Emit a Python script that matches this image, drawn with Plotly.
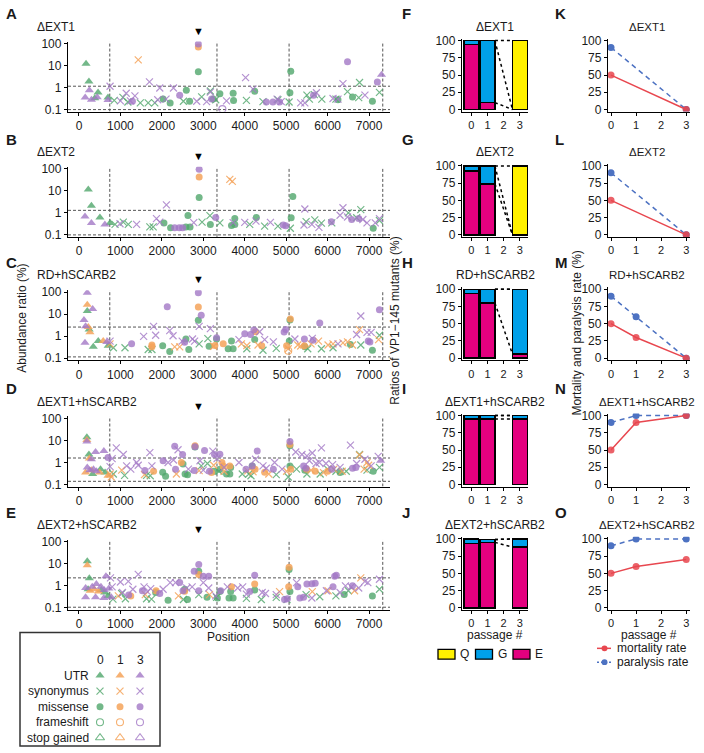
import plotly.graph_objects as go

FONT = "Liberation Sans, Arial, Helvetica, sans-serif"
W, H = 704, 753

# ---------------------------------------------------------------- data
passages = [0, 1, 3]
type_codes = ["U", "S", "M", "F", "X"]
type_names = ["UTR", "synonymus", "missense", "frameshift", "stop gained"]
panel_titles = ["ΔEXT1", "ΔEXT2", "RD+hSCARB2", "ΔEXT1+hSCARB2", "ΔEXT2+hSCARB2"]
scatter_letters = ["A", "B", "C", "D", "E"]
bar_letters = ["F", "G", "H", "I", "J"]
line_letters = ["K", "L", "M", "N", "O"]

region_bounds = [743, 3330, 5070, 7330]
vp1_145_position = 2880
upper_cut = [1.15, 1.3, 2.6, 1.6, 2.3]
lower_cut = [0.1, 0.1, 0.115, 0.14, 0.107]
pos_ticks = [0, 1000, 2000, 3000, 4000, 5000, 6000, 7000]
abund_ticks = [0.1, 1, 10, 100]
abund_labels = ["0.1", "1", "10", "100"]

# (genome position, abundance ratio %, passage, mutation type)
A_pts = [
    (170, 12, 0, "U"), (240, 1.9, 0, "U"), (460, 0.6, 0, "U"), (380, 0.33, 0, "U"), (700, 0.35, 0, "U"),
    (850, 0.26, 0, "S"), (1060, 0.36, 0, "S"), (1180, 0.22, 0, "S"), (1480, 0.2, 0, "S"), (1670, 0.2, 0, "S"),
    (1830, 0.2, 0, "S"), (2520, 0.24, 0, "S"), (2960, 0.38, 0, "S"), (3170, 0.7, 0, "S"), (4040, 0.26, 0, "S"),
    (4440, 0.23, 0, "S"), (4800, 0.28, 0, "S"), (5070, 0.22, 0, "S"), (5500, 0.45, 0, "S"), (5560, 0.3, 0, "S"),
    (5680, 0.48, 0, "S"), (5860, 0.3, 0, "S"), (6200, 0.3, 0, "S"), (6480, 0.65, 0, "S"), (6770, 1.7, 0, "S"),
    (6750, 0.35, 0, "S"), (7250, 0.6, 0, "S"), (3300, 0.28, 0, "S"),
    (2030, 0.3, 0, "M"), (2200, 0.2, 0, "M"), (2590, 0.75, 0, "M"), (2670, 0.24, 0, "M"), (2880, 5.2, 0, "M"),
    (3240, 0.3, 0, "M"), (3400, 0.53, 0, "M"), (3720, 0.55, 0, "M"), (3730, 0.26, 0, "M"), (4240, 0.68, 0, "M"),
    (5090, 0.58, 0, "M"), (5110, 5.5, 0, "M"), (6600, 0.37, 0, "M"), (7080, 0.24, 0, "M"), (6250, 0.28, 0, "M"),
    (1430, 18, 1, "S"), (2880, 70, 1, "M"),
    (150, 0.35, 3, "U"), (250, 0.75, 3, "U"), (300, 0.28, 3, "U"), (440, 0.36, 3, "U"), (700, 0.27, 3, "U"),
    (7300, 3.8, 3, "U"),
    (750, 1.15, 3, "S"), (1000, 0.25, 3, "S"), (1140, 0.55, 3, "S"), (1240, 0.25, 3, "S"), (1350, 0.42, 3, "S"),
    (1700, 1.8, 3, "S"), (1950, 0.95, 3, "S"), (1900, 0.28, 3, "S"), (2280, 0.95, 3, "S"), (2840, 0.24, 3, "S"),
    (3080, 0.23, 3, "S"), (3170, 0.62, 3, "S"), (3560, 0.25, 3, "S"), (4020, 2.8, 3, "S"), (4200, 0.85, 3, "S"),
    (4780, 0.3, 3, "S"), (4880, 0.23, 3, "S"), (5350, 0.2, 3, "S"), (5450, 0.2, 3, "S"), (5730, 0.58, 3, "S"),
    (6130, 0.32, 3, "S"), (6370, 1.5, 3, "S"), (6250, 0.3, 3, "S"), (6900, 0.45, 3, "S"), (2100, 0.3, 3, "S"),
    (2430, 0.45, 3, "M"), (2880, 95, 3, "M"), (3200, 0.3, 3, "M"), (4520, 0.22, 3, "M"), (4680, 0.22, 3, "M"),
    (4840, 0.22, 3, "M"), (6480, 15, 3, "M"), (7200, 1.8, 3, "M"), (1290, 0.24, 3, "M"), (5660, 0.45, 3, "M"),
    (3460, 0.105, 3, "F"),
]

B_pts = [
    (225, 11.5, 0, "U"), (300, 2.1, 0, "U"), (505, 0.62, 0, "U"), (750, 0.35, 0, "U"),
    (870, 0.3, 0, "S"), (1070, 0.38, 0, "S"), (1190, 0.3, 0, "S"), (1710, 0.23, 0, "S"), (1790, 0.23, 0, "S"),
    (2970, 0.38, 0, "S"), (3160, 0.75, 0, "S"), (3400, 0.35, 0, "S"), (4120, 0.3, 0, "S"), (4480, 0.25, 0, "S"),
    (4800, 0.25, 0, "S"), (5100, 0.2, 0, "S"), (5480, 0.4, 0, "S"), (5690, 0.48, 0, "S"), (5850, 0.34, 0, "S"),
    (6500, 1.0, 0, "S"), (6800, 1.4, 0, "S"), (6700, 0.6, 0, "S"), (7250, 0.45, 0, "S"), (6100, 0.35, 0, "S"),
    (2050, 0.35, 0, "M"), (2210, 0.21, 0, "M"), (2580, 0.23, 0, "M"), (2630, 0.75, 0, "M"), (2680, 0.23, 0, "M"),
    (2900, 5.0, 0, "M"), (3170, 0.3, 0, "M"), (3680, 0.27, 0, "M"), (3760, 0.3, 0, "M"), (3760, 0.55, 0, "M"),
    (4280, 0.62, 0, "M"), (5120, 0.6, 0, "M"), (5160, 5.5, 0, "M"), (7100, 0.2, 0, "M"),
    (3640, 33, 1, "S"), (3700, 27, 1, "S"), (2900, 42, 1, "M"),
    (145, 0.68, 3, "U"), (300, 0.35, 3, "U"), (625, 0.3, 3, "U"),
    (990, 0.32, 3, "S"), (1390, 0.3, 3, "S"), (1870, 0.55, 3, "S"), (1950, 0.38, 3, "S"), (2110, 2.3, 3, "S"),
    (2770, 0.36, 3, "S"), (3720, 0.36, 3, "S"), (4000, 0.37, 3, "S"), (4270, 0.42, 3, "S"), (4620, 0.37, 3, "S"),
    (5450, 1.5, 3, "S"), (5430, 0.28, 3, "S"), (5620, 0.3, 3, "S"), (5790, 0.22, 3, "S"), (6300, 0.78, 3, "S"),
    (6370, 1.7, 3, "S"), (6480, 0.65, 3, "S"), (6950, 0.35, 3, "S"), (7150, 0.35, 3, "S"), (7250, 0.55, 3, "S"),
    (6850, 0.5, 3, "S"),
    (2310, 0.21, 3, "M"), (2420, 0.21, 3, "M"), (2500, 0.21, 3, "M"), (2900, 95, 3, "M"), (3300, 0.62, 3, "M"),
    (4930, 0.28, 3, "M"), (4990, 0.26, 3, "M"), (6090, 0.4, 3, "M"), (6750, 0.55, 3, "M"), (6580, 0.5, 3, "M"),
]

C_pts = [
    (200, 14, 0, "U"), (245, 2.0, 0, "U"), (345, 0.33, 0, "U"), (465, 0.6, 0, "U"), (705, 0.37, 0, "U"),
    (200, 27, 1, "U"), (225, 2.6, 1, "U"), (265, 1.5, 1, "U"), (585, 0.6, 1, "U"),
    (200, 95, 3, "U"), (120, 5.4, 3, "U"), (160, 2.8, 3, "U"), (330, 17, 3, "U"), (145, 0.5, 3, "U"),
    (670, 0.55, 3, "U"),
    (830, 0.3, 0, "S"), (1110, 0.3, 0, "S"), (1670, 0.25, 0, "S"), (1760, 0.25, 0, "S"), (2900, 0.45, 0, "S"),
    (3110, 0.78, 0, "S"), (4050, 0.27, 0, "S"), (4440, 0.23, 0, "S"), (4760, 0.28, 0, "S"), (5520, 0.27, 0, "S"),
    (5850, 0.27, 0, "S"), (6130, 0.3, 0, "S"), (7250, 1.1, 0, "S"), (6800, 0.4, 0, "S"),
    (2020, 0.37, 0, "M"), (2190, 0.2, 0, "M"), (2580, 0.75, 0, "M"), (2650, 0.25, 0, "M"), (2880, 5.3, 0, "M"),
    (3140, 0.35, 0, "M"), (3320, 0.75, 0, "M"), (3600, 0.27, 0, "M"), (3680, 0.6, 0, "M"), (3720, 0.27, 0, "M"),
    (4240, 0.7, 0, "M"), (5075, 0.6, 0, "M"), (5090, 5.5, 0, "M"), (6550, 0.42, 0, "M"), (7080, 0.23, 0, "M"),
    (5450, 0.33, 0, "M"),
    (750, 0.45, 1, "S"), (2310, 0.33, 1, "S"), (2430, 0.33, 1, "S"), (3250, 0.35, 1, "S"), (3920, 0.45, 1, "S"),
    (4050, 0.38, 1, "S"), (4320, 0.4, 1, "S"), (5050, 0.27, 1, "S"), (5280, 0.4, 1, "S"), (5350, 0.36, 1, "S"),
    (5600, 0.45, 1, "S"), (5780, 0.6, 1, "S"), (6010, 0.4, 1, "S"), (6130, 0.45, 1, "S"), (6370, 0.5, 1, "S"),
    (6480, 0.55, 1, "S"), (6600, 0.4, 1, "S"), (6770, 2.0, 1, "S"), (7230, 0.7, 1, "S"),
    (1760, 0.4, 1, "M"), (1760, 0.33, 1, "M"), (2880, 21, 1, "M"), (3280, 0.38, 1, "M"), (3480, 0.45, 1, "M"),
    (4260, 1.6, 1, "M"), (4410, 0.37, 1, "M"), (5010, 0.37, 1, "M"), (5100, 6, 1, "M"), (5440, 0.37, 1, "M"),
    (5050, 0.22, 1, "F"),
    (750, 0.6, 3, "S"), (1560, 0.98, 3, "S"), (1800, 2.8, 3, "S"), (1850, 1.1, 3, "S"), (2190, 1.8, 3, "S"),
    (2270, 1.05, 3, "S"), (2490, 0.6, 3, "S"), (2740, 0.75, 3, "S"), (2790, 0.6, 3, "S"), (2900, 2.8, 3, "S"),
    (3170, 2.2, 3, "S"), (3860, 0.7, 3, "S"), (4360, 1.6, 3, "S"), (4480, 0.7, 3, "S"), (4690, 0.55, 3, "S"),
    (5210, 0.75, 3, "S"), (5630, 0.8, 3, "S"), (6700, 1.2, 3, "S"), (6800, 8.3, 3, "S"), (6950, 1.5, 3, "S"),
    (7050, 1.5, 3, "S"), (6250, 0.45, 3, "S"),
    (1270, 0.45, 3, "M"), (2130, 22, 3, "M"), (2550, 0.53, 3, "M"), (2880, 95, 3, "M"), (2950, 9, 3, "M"),
    (3320, 0.85, 3, "M"), (4000, 1.3, 3, "M"), (4140, 1.2, 3, "M"), (4220, 1.9, 3, "M"), (4950, 1.55, 3, "M"),
    (4990, 2.0, 3, "M"), (5440, 0.75, 3, "M"), (5650, 0.65, 3, "M"), (5810, 4.0, 3, "M"), (6980, 0.6, 3, "M"),
    (7020, 0.55, 3, "M"), (7250, 16, 3, "M"),
]

D_pts = [
    (190, 14, 0, "U"), (240, 2.3, 0, "U"), (330, 0.3, 0, "U"), (630, 0.35, 0, "U"), (520, 0.5, 0, "U"),
    (190, 10.5, 1, "U"), (250, 1.5, 1, "U"), (160, 0.35, 1, "U"), (500, 0.35, 1, "U"), (300, 0.45, 1, "U"),
    (700, 0.25, 1, "U"),
    (190, 9, 3, "U"), (300, 1.4, 3, "U"), (400, 3.0, 3, "U"), (600, 3.3, 3, "U"), (200, 0.6, 3, "U"),
    (260, 0.45, 3, "U"), (350, 0.5, 3, "U"), (420, 0.4, 3, "U"), (7280, 1.2, 3, "U"),
    (830, 0.3, 0, "S"), (1100, 0.26, 0, "S"), (1630, 0.26, 0, "S"), (1720, 0.25, 0, "S"), (2950, 0.7, 0, "S"),
    (3100, 0.9, 0, "S"), (3380, 0.4, 0, "S"), (3940, 0.3, 0, "S"), (4100, 0.3, 0, "S"), (4150, 0.25, 0, "S"),
    (5050, 0.22, 0, "S"), (5250, 0.5, 0, "S"), (5500, 0.3, 0, "S"), (5820, 0.3, 0, "S"), (6000, 0.5, 0, "S"),
    (6200, 0.4, 0, "S"), (6450, 0.4, 0, "S"), (6770, 2.3, 0, "S"), (6950, 0.45, 0, "S"), (7250, 0.6, 0, "S"),
    (4760, 0.28, 0, "S"),
    (2020, 0.36, 0, "M"), (2090, 0.24, 0, "M"), (2510, 0.85, 0, "M"), (2560, 0.3, 0, "M"), (2620, 0.28, 0, "M"),
    (2800, 5.0, 0, "M"), (3260, 0.4, 0, "M"), (3400, 0.5, 0, "M"), (3560, 0.3, 0, "M"), (3640, 0.3, 0, "M"),
    (3660, 0.6, 0, "M"), (4180, 0.7, 0, "M"), (5090, 0.7, 0, "M"), (5090, 5.8, 0, "M"), (5450, 0.45, 0, "M"),
    (7100, 0.4, 0, "M"), (6300, 0.35, 0, "M"),
    (750, 0.3, 1, "S"), (1030, 0.45, 1, "S"), (1580, 0.28, 1, "S"), (2350, 0.3, 1, "S"), (2900, 0.43, 1, "S"),
    (3250, 0.75, 1, "S"), (3500, 0.4, 1, "S"), (4070, 0.42, 1, "S"), (4200, 0.38, 1, "S"), (4580, 0.3, 1, "S"),
    (5010, 0.4, 1, "S"), (5600, 0.45, 1, "S"), (5900, 0.35, 1, "S"), (6150, 0.5, 1, "S"), (6350, 0.4, 1, "S"),
    (6770, 2.2, 1, "S"), (6950, 1.0, 1, "S"), (6990, 0.75, 1, "S"), (6880, 0.5, 1, "S"), (780, 0.22, 1, "S"),
    (1800, 0.4, 1, "M"), (2470, 1.0, 1, "M"), (2800, 5.8, 1, "M"), (3450, 1.0, 1, "M"), (3480, 0.7, 1, "M"),
    (3640, 0.7, 1, "M"), (4480, 0.36, 1, "M"), (5090, 6.5, 1, "M"), (5110, 0.5, 1, "M"), (5490, 0.5, 1, "M"),
    (5700, 0.4, 1, "M"), (6000, 0.4, 1, "M"), (3200, 0.35, 1, "M"), (4250, 0.5, 1, "M"),
    (750, 0.65, 3, "S"), (800, 1.5, 3, "S"), (900, 4.6, 3, "S"), (1070, 2.3, 3, "S"), (1150, 0.7, 3, "S"),
    (1250, 0.5, 3, "S"), (1390, 1.0, 3, "S"), (1430, 0.75, 3, "S"), (1710, 2.8, 3, "S"), (1760, 0.7, 3, "S"),
    (2150, 1.0, 3, "S"), (2280, 1.3, 3, "S"), (2390, 3.8, 3, "S"), (2640, 0.5, 3, "S"), (2920, 1.2, 3, "S"),
    (3230, 3.3, 3, "S"), (3330, 1.5, 3, "S"), (3500, 0.6, 3, "S"), (3860, 1.0, 3, "S"), (4260, 1.4, 3, "S"),
    (4440, 0.7, 3, "S"), (4520, 0.55, 3, "S"), (4720, 1.0, 3, "S"), (4900, 0.5, 3, "S"), (5230, 3.0, 3, "S"),
    (5380, 2.3, 3, "S"), (5500, 2.0, 3, "S"), (5630, 2.7, 3, "S"), (5850, 4.6, 3, "S"), (5560, 1.2, 3, "S"),
    (5720, 0.9, 3, "S"), (5800, 1.0, 3, "S"), (5960, 0.9, 3, "S"), (6120, 0.8, 3, "S"), (6300, 0.6, 3, "S"),
    (6550, 6.2, 3, "S"), (6900, 1.4, 3, "S"), (7220, 1.9, 3, "S"), (7050, 0.7, 3, "S"), (6700, 0.9, 3, "S"),
    (3000, 0.45, 3, "S"),
    (700, 1.7, 3, "M"), (1590, 0.43, 3, "M"), (2030, 1.2, 3, "M"), (2310, 5.4, 3, "M"), (2500, 2.3, 3, "M"),
    (2330, 0.5, 3, "M"), (2780, 0.43, 3, "M"), (2800, 5.2, 3, "M"), (3030, 3.5, 3, "M"), (3270, 2.3, 3, "M"),
    (3400, 2.4, 3, "M"), (4030, 0.5, 3, "M"), (4300, 3.3, 3, "M"), (4180, 0.7, 3, "M"), (4690, 0.5, 3, "M"),
    (5090, 9, 3, "M"), (5420, 0.7, 3, "M"), (5480, 0.55, 3, "M"), (6100, 0.5, 3, "M"), (6600, 0.55, 3, "M"),
    (6680, 0.6, 3, "M"), (3150, 0.4, 3, "M"),
]

E_pts = [
    (200, 13, 0, "U"), (250, 2.2, 0, "U"), (220, 0.7, 0, "U"), (540, 0.65, 0, "U"), (700, 0.35, 0, "U"),
    (620, 0.5, 0, "U"),
    (200, 8.7, 1, "U"), (270, 0.6, 1, "U"), (370, 0.7, 1, "U"), (470, 0.55, 1, "U"),
    (650, 2.7, 3, "U"), (160, 0.8, 3, "U"), (320, 0.9, 3, "U"), (420, 1.2, 3, "U"), (530, 0.9, 3, "U"),
    (610, 0.65, 3, "U"), (720, 0.75, 3, "U"), (160, 0.3, 3, "U"), (400, 0.3, 3, "U"), (600, 0.28, 3, "U"),
    (780, 0.3, 3, "U"),
    (820, 0.25, 0, "S"), (1030, 0.45, 0, "S"), (1120, 0.26, 0, "S"), (1630, 0.26, 0, "S"), (1750, 0.25, 0, "S"),
    (2520, 0.24, 0, "S"), (2890, 0.4, 0, "S"), (3320, 0.3, 0, "S"), (4040, 0.27, 0, "S"), (4400, 0.24, 0, "S"),
    (4760, 0.3, 0, "S"), (5020, 0.24, 0, "S"), (5480, 0.4, 0, "S"), (5810, 0.32, 0, "S"), (6500, 0.6, 0, "S"),
    (7250, 0.7, 0, "S"), (6200, 0.35, 0, "S"),
    (2150, 0.22, 0, "M"), (2550, 0.7, 0, "M"), (2620, 0.24, 0, "M"), (2890, 4.6, 0, "M"), (3090, 0.3, 0, "M"),
    (3340, 0.28, 0, "M"), (3400, 0.55, 0, "M"), (3620, 0.28, 0, "M"), (3660, 0.55, 0, "M"), (3720, 0.28, 0, "M"),
    (4240, 0.65, 0, "M"), (5070, 5.5, 0, "M"), (5090, 0.55, 0, "M"), (7080, 0.35, 0, "M"), (6400, 0.4, 0, "M"),
    (1850, 0.5, 0, "M"),
    (1600, 0.4, 1, "S"), (2400, 0.35, 1, "S"), (3150, 0.4, 1, "S"), (4840, 0.55, 1, "S"), (5630, 0.55, 1, "S"),
    (6010, 0.6, 1, "S"), (6800, 2.3, 1, "S"), (6650, 0.6, 1, "S"), (950, 0.35, 1, "S"),
    (1860, 0.6, 1, "M"), (2550, 0.57, 1, "M"), (2890, 3.3, 1, "M"), (3680, 0.9, 1, "M"), (4240, 1.2, 1, "M"),
    (5070, 7, 1, "M"), (5060, 0.9, 1, "M"), (1250, 0.35, 1, "M"),
    (760, 2.3, 3, "S"), (800, 0.9, 3, "S"), (1000, 1.5, 3, "S"), (1190, 1.6, 3, "S"), (1430, 3.3, 3, "S"),
    (1300, 0.7, 3, "S"), (1050, 0.5, 3, "S"), (1570, 0.9, 3, "S"), (1650, 0.55, 3, "S"), (1730, 0.75, 3, "S"),
    (2030, 0.7, 3, "S"), (2200, 1.4, 3, "S"), (2330, 1.4, 3, "S"), (2600, 0.8, 3, "S"), (2730, 0.9, 3, "S"),
    (3000, 1.4, 3, "S"), (3130, 0.8, 3, "S"), (3300, 0.35, 3, "S"), (3580, 0.9, 3, "S"), (3830, 0.8, 3, "S"),
    (3950, 0.9, 3, "S"), (4040, 0.42, 3, "S"), (4420, 0.5, 3, "S"), (4500, 0.45, 3, "S"), (4760, 0.4, 3, "S"),
    (5250, 1.4, 3, "S"), (5620, 0.28, 3, "S"), (5970, 0.6, 3, "S"), (6430, 1.0, 3, "S"), (6570, 0.9, 3, "S"),
    (6750, 0.8, 3, "S"), (6970, 1.4, 3, "S"), (7250, 2.0, 3, "S"), (6900, 1.6, 3, "S"), (6300, 0.5, 3, "S"),
    (1200, 0.38, 3, "M"), (1530, 0.6, 3, "M"), (1950, 0.45, 3, "M"), (2430, 1.4, 3, "M"), (2510, 0.6, 3, "M"),
    (2780, 4.6, 3, "M"), (2890, 9.3, 3, "M"), (2890, 0.6, 3, "M"), (3000, 2.7, 3, "M"), (3130, 2.7, 3, "M"),
    (3420, 0.6, 3, "M"), (4120, 0.55, 3, "M"), (4240, 3.0, 3, "M"), (4960, 0.24, 3, "M"), (5030, 0.26, 3, "M"),
    (5280, 0.9, 3, "M"), (5330, 0.28, 3, "M"), (5420, 0.3, 3, "M"), (5500, 1.2, 3, "M"), (5620, 1.25, 3, "M"),
    (5700, 1.3, 3, "M"), (6130, 0.9, 3, "M"), (6170, 2.7, 3, "M"), (6210, 3.0, 3, "M"), (6600, 1.0, 3, "M"),
]
scatter_panels = [A_pts, B_pts, C_pts, D_pts, E_pts]

# VP1-145 amino acid composition (%), passages 0, 1, 3
bar_passages = [0, 1, 3]
stack_order = ["E", "G", "Q"]
E_share = [[94, 10, 0], [93, 74, 0], [94, 80, 6], [95, 95, 95], [93, 95, 88]]
G_share = [[6, 90, 0], [7, 26, 0], [6, 20, 94], [5, 5, 5], [7, 4, 12]]
Q_share = [[0, 0, 100], [0, 0, 100], [0, 0, 0], [0, 0, 0], [0, 0, 0]]

# mortality / paralysis (%)
rate_passages = [[0, 3], [0, 3], [0, 1, 3], [0, 1, 3], [0, 1, 3]]
mortality = [[50, 0], [50, 0], [50, 30, 0], [50, 90, 100], [50, 60, 70]]
paralysis = [[90, 0], [90, 0], [90, 60, 0], [90, 100, 100], [90, 100, 100]]

# ---------------------------------------------------------------- style
pass_color = {0: "rgba(80,166,108,0.8)", 1: "rgba(245,163,90,0.85)", 3: "rgba(163,120,198,0.8)"}
aa_color = {"E": "#E4007F", "G": "#00A0E9", "Q": "#FFF100"}
RED = "#E8474F"
BLUE = "#4D72C2"
TXT = "#1a1a1a"


def fx(p):
    return p / W


def fy(p):
    return 1 - p / H


def marker_style(p, code):
    c = pass_color[p]
    if code == "U":
        return dict(symbol="triangle-up", size=8, color=c, line=dict(width=0))
    if code == "S":
        return dict(symbol="x-thin", size=7, color=c, line=dict(width=1.2, color=c))
    if code == "M":
        return dict(symbol="circle", size=7, color=c, line=dict(width=0))
    if code == "F":
        return dict(symbol="circle-open", size=7, color=c, line=dict(width=1.1, color=c))
    return dict(symbol="triangle-up-open", size=8, color=c, line=dict(width=1.1, color=c))


fig = go.Figure()
lay = {}
ann = []
shp = []

AX = dict(showgrid=False, zeroline=False, showline=True, linecolor="black", linewidth=1.3,
          ticks="outside", ticklen=3, tickwidth=1.1, tickcolor="black",
          tickfont=dict(family=FONT, size=12, color=TXT), fixedrange=True)
SMALL_TICKS = dict(family=FONT, size=11, color=TXT)


def set_axes(n, x0, x1, ybot, height, xextra, yextra):
    xk = "xaxis" if n == 1 else f"xaxis{n}"
    yk = "yaxis" if n == 1 else f"yaxis{n}"
    xr = "x" if n == 1 else f"x{n}"
    yr = "y" if n == 1 else f"y{n}"
    lay[xk] = dict(AX, domain=[fx(x0), fx(x1)], anchor=yr, **xextra)
    lay[yk] = dict(AX, domain=[fy(ybot), fy(ybot - height)], anchor=xr, **yextra)
    return xr, yr


def text(x, y, s, size=12, xanchor="center", bold=False, angle=0, xref="paper", yref="paper"):
    ann.append(dict(x=x, y=y, xref=xref, yref=yref, text=f"<b>{s}</b>" if bold else s,
                    showarrow=False, xanchor=xanchor, yanchor="middle", textangle=angle,
                    font=dict(family=FONT, size=size, color=TXT)))


row_bottom = [108, 235, 360, 488, 613]
SC_X0, SC_X1, SC_H = 68, 390, 71
BAR_X0, BAR_X1, BAR_H = 462, 528, 74
LN_X0, LN_X1, LN_H = 608, 690, 74
pos_range = [-265, 7505]
log_range = [-1.09, 2.09]
BAR_W = 0.92

for i, pts in enumerate(scatter_panels):
    b = row_bottom[i]
    xr, yr = set_axes(i + 1, SC_X0, SC_X1, b, SC_H,
                      dict(range=pos_range, tickvals=pos_ticks, ticktext=[str(t) for t in pos_ticks]),
                      dict(type="log", range=log_range, tickvals=abund_ticks, ticktext=abund_labels))
    dash = dict(color="#555555", width=1, dash="3px,2px")
    for xb in region_bounds:
        fig.add_trace(go.Scatter(x=[xb, xb], y=[10 ** log_range[0], 10 ** log_range[1]], xaxis=xr, yaxis=yr,
                                 mode="lines", line=dash, hoverinfo="skip", showlegend=False))
    for cut in (upper_cut[i], lower_cut[i]):
        fig.add_trace(go.Scatter(x=pos_range, y=[cut, cut], xaxis=xr, yaxis=yr, mode="lines",
                                 line=dash, hoverinfo="skip", showlegend=False))
    for p in passages:
        for code in type_codes:
            sel = [q for q in pts if q[2] == p and q[3] == code]
            if not sel:
                continue
            fig.add_trace(go.Scatter(x=[q[0] for q in sel], y=[q[1] for q in sel], xaxis=xr, yaxis=yr,
                                     mode="markers", marker=marker_style(p, code), showlegend=False))
    ann.append(dict(x=vp1_145_position, y=1 + 11 / SC_H, xref=xr, yref=f"{yr} domain", text="▼",
                    showarrow=False, font=dict(size=11, color="black"), xanchor="center", yanchor="middle"))
    text(fx(35), fy(b - SC_H - 15), panel_titles[i], xanchor="left")
    text(fx(4), fy(b - 99), scatter_letters[i], size=15, xanchor="left", bold=True)

for i in range(5):
    b = row_bottom[i]
    xr, yr = set_axes(6 + i, BAR_X0, BAR_X1, b, BAR_H,
                      dict(range=[-0.57, 3.5], tickvals=[0, 1, 2, 3], tickfont=SMALL_TICKS),
                      dict(range=[-3, 103], tickvals=[0, 25, 50, 75, 100]))
    shares = {"E": E_share[i], "G": G_share[i], "Q": Q_share[i]}
    for aa in stack_order:
        xs = [p for p, v in zip(bar_passages, shares[aa]) if v > 0]
        ys = [v for v in shares[aa] if v > 0]
        fig.add_trace(go.Bar(x=xs, y=ys, xaxis=xr, yaxis=yr, width=BAR_W,
                             marker=dict(color=aa_color[aa], line=dict(color="black", width=1.5)),
                             showlegend=False))
    cum1, cum3, s1, s3 = [], [], 0, 0
    for aa in stack_order:
        s1 += shares[aa][1]
        s3 += shares[aa][2]
        cum1.append(s1)
        cum3.append(s3)
    for k in range(len(stack_order)):
        fig.add_trace(go.Scatter(x=[bar_passages[1] + BAR_W / 2, bar_passages[2] - BAR_W / 2],
                                 y=[cum1[k], cum3[k]], xaxis=xr, yaxis=yr, mode="lines",
                                 line=dict(color="black", width=1.5, dash="dot"), showlegend=False))
    text(fx((BAR_X0 + BAR_X1) / 2), fy(b - SC_H - 15), panel_titles[i])
    text(fx(400), fy(b - 99), bar_letters[i], size=15, xanchor="left", bold=True)

for i in range(5):
    b = row_bottom[i]
    xr, yr = set_axes(11 + i, LN_X0, LN_X1, b, LN_H,
                      dict(range=[-0.12, 3.15], tickvals=[0, 1, 2, 3], tickfont=SMALL_TICKS),
                      dict(range=[-3, 103], tickvals=[0, 25, 50, 75, 100]))
    fig.add_trace(go.Scatter(x=rate_passages[i], y=paralysis[i], xaxis=xr, yaxis=yr, mode="lines+markers",
                             line=dict(color=BLUE, width=1.5, dash="5px,4px"), marker=dict(size=7, color=BLUE),
                             showlegend=False))
    fig.add_trace(go.Scatter(x=rate_passages[i], y=mortality[i], xaxis=xr, yaxis=yr, mode="lines+markers",
                             line=dict(color=RED, width=1.5), marker=dict(size=7, color=RED, opacity=0.85),
                             showlegend=False))
    text(fx(647), fy(b - SC_H - 15), panel_titles[i], size=11.5)
    text(fx(553), fy(b - 99), line_letters[i], size=15, xanchor="left", bold=True)

# axis titles
text(fx(22), fy(318), "Abundance ratio (%)", angle=-90)
text(fx(395), fy(320), "Ratios of VP1−145 mutants (%)", angle=-90)
text(fx(577), fy(333), "Mortality and paralysis rate (%)", angle=-90)
text(fx((SC_X0 + SC_X1) / 2), fy(641), "Position")
text(fx((BAR_X0 + BAR_X1) / 2), fy(638), "passage #")
text(fx((LN_X0 + LN_X1) / 2), fy(638), "passage #")

# ---- mutation legend (grid: passages x types)
lay["xaxis16"] = dict(domain=[fx(90), fx(150)], range=[-0.5, len(passages) - 0.5], visible=False,
                      anchor="y16", fixedrange=True)
lay["yaxis16"] = dict(domain=[fy(750.5), fy(656)], range=[len(type_codes) - 0.5, -1.5], visible=False,
                      anchor="x16", fixedrange=True)
for ci, p in enumerate(passages):
    text(ci, -1, str(p), xref="x16", yref="y16")
    for ri, code in enumerate(type_codes):
        fig.add_trace(go.Scatter(x=[ci], y=[ri], xaxis="x16", yaxis="y16", mode="markers",
                                 marker=marker_style(p, code), showlegend=False))
for ri, name in enumerate(type_names):
    text(fx(91), ri, name, xref="paper", yref="y16", xanchor="right")
shp.append(dict(type="rect", xref="paper", yref="paper", x0=fx(20), x1=fx(160), y0=fy(751), y1=fy(636),
                line=dict(color="#333", width=1.5)))

# ---- amino-acid legend
for k, aa in enumerate(["Q", "G", "E"]):
    left = 438 + 37.5 * k
    shp.append(dict(type="rect", xref="paper", yref="paper", x0=fx(left), x1=fx(left + 17),
                    y0=fy(663), y1=fy(653), fillcolor=aa_color[aa], line=dict(color="black", width=1.3)))
    text(fx(left + 20), fy(658), aa, xanchor="left")

# ---- rate legend
for k, (name, col, dsh) in enumerate([("mortality rate", RED, "solid"), ("paralysis rate", BLUE, "2px,2px")]):
    yy = 652 + 14 * k
    shp.append(dict(type="line", xref="paper", yref="paper", x0=fx(597), x1=fx(611), y0=fy(yy), y1=fy(yy),
                    line=dict(color=col, width=1.5, dash=dsh)))
    shp.append(dict(type="circle", xref="paper", yref="paper", x0=fx(601.5), x1=fx(607.5),
                    y0=fy(yy + 3), y1=fy(yy - 3), fillcolor=col, line=dict(width=0)))
    text(fx(615), fy(yy), name, xanchor="left")

fig.update_layout(width=W, height=H, margin=dict(l=0, r=0, t=0, b=0), paper_bgcolor="white",
                  plot_bgcolor="white", barmode="stack", showlegend=False,
                  font=dict(family=FONT, size=12, color=TXT), annotations=ann, shapes=shp, **lay)

# page without the default body margin so the figure sits at the window origin
fig.write_html("out.html", config={"displayModeBar": False},
               post_script="document.body.style.margin='0';document.body.style.overflow='hidden';")
